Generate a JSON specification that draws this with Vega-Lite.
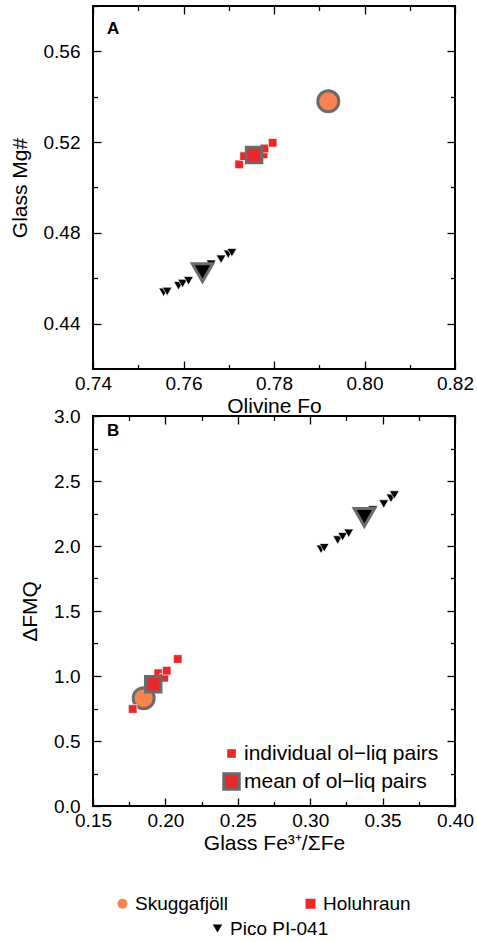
{
  "$schema": "https://vega.github.io/schema/vega-lite/v6.json",
  "padding": {"left": 8, "top": 4, "right": 0, "bottom": 0},
  "datasets": {
    "a": [
      {"group": "Skuggafjöll", "type": "mean", "fo": 0.792, "mg": 0.538},
      {"group": "Holuhraun", "type": "individual", "fo": 0.7723, "mg": 0.5102},
      {"group": "Holuhraun", "type": "individual", "fo": 0.7734, "mg": 0.5138},
      {"group": "Holuhraun", "type": "individual", "fo": 0.7777, "mg": 0.5146},
      {"group": "Holuhraun", "type": "individual", "fo": 0.7779, "mg": 0.5172},
      {"group": "Holuhraun", "type": "individual", "fo": 0.7797, "mg": 0.5197},
      {"group": "Holuhraun", "type": "mean", "fo": 0.7756, "mg": 0.5143},
      {"group": "Pico PI-041", "type": "individual", "fo": 0.7556, "mg": 0.4538},
      {"group": "Pico PI-041", "type": "individual", "fo": 0.7564, "mg": 0.4542},
      {"group": "Pico PI-041", "type": "individual", "fo": 0.7589, "mg": 0.4567},
      {"group": "Pico PI-041", "type": "individual", "fo": 0.7598, "mg": 0.4577},
      {"group": "Pico PI-041", "type": "individual", "fo": 0.7611, "mg": 0.4589},
      {"group": "Pico PI-041", "type": "individual", "fo": 0.7661, "mg": 0.4662},
      {"group": "Pico PI-041", "type": "individual", "fo": 0.7683, "mg": 0.4684},
      {"group": "Pico PI-041", "type": "individual", "fo": 0.7699, "mg": 0.4706},
      {"group": "Pico PI-041", "type": "individual", "fo": 0.7707, "mg": 0.4713},
      {"group": "Pico PI-041", "type": "mean", "fo": 0.7642, "mg": 0.4625}
    ],
    "b": [
      {"group": "Skuggafjöll", "type": "mean", "fe3": 0.185, "dfmq": 0.829},
      {"group": "Holuhraun", "type": "individual", "fe3": 0.1774, "dfmq": 0.746},
      {"group": "Holuhraun", "type": "individual", "fe3": 0.1951, "dfmq": 1.021},
      {"group": "Holuhraun", "type": "individual", "fe3": 0.1992, "dfmq": 0.987},
      {"group": "Holuhraun", "type": "individual", "fe3": 0.2009, "dfmq": 1.041},
      {"group": "Holuhraun", "type": "individual", "fe3": 0.2085, "dfmq": 1.131},
      {"group": "Holuhraun", "type": "mean", "fe3": 0.1916, "dfmq": 0.936},
      {"group": "Pico PI-041", "type": "individual", "fe3": 0.3075, "dfmq": 1.975},
      {"group": "Pico PI-041", "type": "individual", "fe3": 0.3097, "dfmq": 1.987},
      {"group": "Pico PI-041", "type": "individual", "fe3": 0.319, "dfmq": 2.046},
      {"group": "Pico PI-041", "type": "individual", "fe3": 0.3224, "dfmq": 2.072},
      {"group": "Pico PI-041", "type": "individual", "fe3": 0.3266, "dfmq": 2.098},
      {"group": "Pico PI-041", "type": "individual", "fe3": 0.3432, "dfmq": 2.277},
      {"group": "Pico PI-041", "type": "individual", "fe3": 0.3508, "dfmq": 2.323},
      {"group": "Pico PI-041", "type": "individual", "fe3": 0.3558, "dfmq": 2.367},
      {"group": "Pico PI-041", "type": "individual", "fe3": 0.3581, "dfmq": 2.392},
      {"group": "Pico PI-041", "type": "mean", "fe3": 0.3374, "dfmq": 2.221}
    ]
  },
  "spacing": 47,
  "bounds": "flush",
  "resolve": {"scale": {"color": "shared", "shape": "shared", "opacity": "independent", "size": "independent"}, "legend": {"size": "independent", "opacity": "independent"}},
  "vconcat": [
    {
      "width": 362,
      "height": 363,
      "title": {"text": "A", "anchor": "start", "frame": "group", "offset": -46, "dx": 14, "fontSize": 17, "fontWeight": "bold", "font": "Liberation Sans", "baseline": "alphabetic", "color": "black"},
      "data": {"name": "a"},
      "resolve": {"axis": {"x": "independent", "y": "independent"}},
      "layer": [
        {
          "mark": {"type": "point", "filled": true, "opacity": 1},
          "encoding": {
            "x": {"field": "fo", "type": "quantitative", "scale": {"domain": [0.74, 0.82], "zero": false, "nice": false},
                  "axis": {"orient": "bottom", "values": [0.74, 0.76, 0.78, 0.80, 0.82], "format": ".2f", "tickSize": -8, "labelPadding": 13, "title": "Olivine Fo", "titlePadding": 2}},
            "y": {"field": "mg", "type": "quantitative", "scale": {"domain": [0.42, 0.58], "zero": false, "nice": false},
                  "axis": {"orient": "left", "values": [0.44, 0.48, 0.52, 0.56], "format": ".2f", "tickSize": -8, "labelPadding": 21, "title": "Glass Mg#", "titlePadding": 13}},
            "color": {"field": "group", "type": "nominal", "scale": {"domain": ["Skuggafjöll", "Holuhraun", "Pico PI-041"], "range": ["#F7834F", "#E8292C", "#000000"]},
                      "legend": {"orient": "none", "direction": "horizontal", "values": ["Skuggafjöll", "Holuhraun"], "legendX": 20, "legendY": 888, "columns": 2, "columnPadding": 73, "rowPadding": 4, "title": null, "labelFontSize": 19, "labelFont": "Liberation Sans", "labelColor": "black", "labelOffset": 3, "labelLimit": 0, "padding": 0, "symbolStrokeWidth": 0,
                                 "encode": {"symbols": {"update": {"size": {"signal": "datum.value === 'Skuggafjöll' ? 170 : 90"}, "opacity": {"value": 1}}}}}},
            "shape": {"field": "group", "type": "nominal", "scale": {"domain": ["Skuggafjöll", "Holuhraun", "Pico PI-041"], "range": ["circle", "square", "triangle-down"]},
                      "legend": {"orient": "none", "direction": "horizontal", "values": ["Skuggafjöll", "Holuhraun"], "legendX": 20, "legendY": 888, "columns": 2, "columnPadding": 73, "rowPadding": 4, "title": null, "labelFontSize": 19, "labelFont": "Liberation Sans", "labelColor": "black", "labelOffset": 3, "labelLimit": 0, "padding": 0, "symbolStrokeWidth": 0,
                                 "encode": {"symbols": {"update": {"size": {"signal": "datum.value === 'Skuggafjöll' ? 170 : 90"}, "opacity": {"value": 1}}}}}},
            "size": {"field": "type", "type": "ordinal", "scale": {"domain": ["individual", "mean"], "range": [75, 240]},
                     "condition": [
                       {"test": "datum.group === 'Skuggafjöll'", "value": 441},
                       {"test": "datum.group === 'Pico PI-041' && datum.type === 'mean'", "value": 420},
                       {"test": "datum.group === 'Pico PI-041'", "value": 95}
                     ],
                     "legend": null},
            "stroke": {"condition": {"test": "datum.type === 'mean'", "value": "#6B6B6B"}, "value": "#ffffff"},
            "strokeWidth": {"condition": {"test": "datum.type === 'mean'", "value": 3}, "value": 0.7}
          }
        },
        {
          "mark": {"type": "point", "opacity": 0, "size": 0},
          "encoding": {
            "x": {"field": "fo", "type": "quantitative", "scale": {"domain": [0.74, 0.82], "zero": false, "nice": false},
                  "axis": {"orient": "top", "values": [0.74, 0.76, 0.78, 0.80, 0.82], "tickSize": -8, "labels": false, "title": null}},
            "y": {"field": "mg", "type": "quantitative", "scale": {"domain": [0.42, 0.58], "zero": false, "nice": false},
                  "axis": {"orient": "right", "values": [0.44, 0.48, 0.52, 0.56], "tickSize": -8, "labels": false, "title": null}}
          }
        },
        {
          "mark": {"type": "point", "opacity": 0, "size": 0},
          "encoding": {
            "x": {"field": "fo", "type": "quantitative", "scale": {"domain": [0.74, 0.82], "zero": false, "nice": false},
                  "axis": {"orient": "bottom", "values": [0.75, 0.77, 0.79, 0.81], "tickSize": -4.5, "labels": false, "title": null}},
            "y": {"field": "mg", "type": "quantitative", "scale": {"domain": [0.42, 0.58], "zero": false, "nice": false},
                  "axis": {"orient": "left", "values": [0.46, 0.50, 0.54, 0.58], "tickSize": -4.5, "labels": false, "title": null}}
          }
        },
        {
          "mark": {"type": "point", "opacity": 0, "size": 0},
          "encoding": {
            "x": {"field": "fo", "type": "quantitative", "scale": {"domain": [0.74, 0.82], "zero": false, "nice": false},
                  "axis": {"orient": "top", "values": [0.75, 0.77, 0.79, 0.81], "tickSize": -4.5, "labels": false, "title": null}},
            "y": {"field": "mg", "type": "quantitative", "scale": {"domain": [0.42, 0.58], "zero": false, "nice": false},
                  "axis": {"orient": "right", "values": [0.46, 0.50, 0.54, 0.58], "tickSize": -4.5, "labels": false, "title": null}}
          }
        }
      ]
    },
    {
      "width": 362,
      "height": 390,
      "title": {"text": "B", "anchor": "start", "frame": "group", "offset": -46, "dx": 14, "fontSize": 17, "fontWeight": "bold", "font": "Liberation Sans", "baseline": "alphabetic", "color": "black"},
      "data": {"name": "b"},
      "resolve": {"axis": {"x": "independent", "y": "independent"}},
      "layer": [
        {
          "mark": {"type": "point", "filled": true, "opacity": 1},
          "encoding": {
            "x": {"field": "fe3", "type": "quantitative", "scale": {"domain": [0.15, 0.40], "zero": false, "nice": false},
                  "axis": {"orient": "bottom", "values": [0.15, 0.20, 0.25, 0.30, 0.35, 0.40], "format": ".2f", "tickSize": -8, "labelPadding": 13, "title": "Glass Fe³⁺/ΣFe", "titlePadding": 2}},
            "y": {"field": "dfmq", "type": "quantitative", "scale": {"domain": [0, 3], "zero": false, "nice": false},
                  "axis": {"orient": "left", "values": [0, 0.5, 1, 1.5, 2, 2.5, 3], "format": ".1f", "tickSize": -8, "labelPadding": 21, "title": "ΔFMQ", "titlePadding": 13}},
            "color": {"field": "group", "type": "nominal", "scale": {"domain": ["Skuggafjöll", "Holuhraun", "Pico PI-041"], "range": ["#F7834F", "#E8292C", "#000000"]},
                      "legend": {"orient": "none", "direction": "horizontal", "values": ["Skuggafjöll", "Holuhraun"], "legendX": 20, "legendY": 888, "columns": 2, "columnPadding": 73, "rowPadding": 4, "title": null, "labelFontSize": 19, "labelFont": "Liberation Sans", "labelColor": "black", "labelOffset": 3, "labelLimit": 0, "padding": 0, "symbolStrokeWidth": 0,
                                 "encode": {"symbols": {"update": {"size": {"signal": "datum.value === 'Skuggafjöll' ? 170 : 90"}, "opacity": {"value": 1}}}}}},
            "shape": {"field": "group", "type": "nominal", "scale": {"domain": ["Skuggafjöll", "Holuhraun", "Pico PI-041"], "range": ["circle", "square", "triangle-down"]},
                      "legend": {"orient": "none", "direction": "horizontal", "values": ["Skuggafjöll", "Holuhraun"], "legendX": 20, "legendY": 888, "columns": 2, "columnPadding": 73, "rowPadding": 4, "title": null, "labelFontSize": 19, "labelFont": "Liberation Sans", "labelColor": "black", "labelOffset": 3, "labelLimit": 0, "padding": 0, "symbolStrokeWidth": 0,
                                 "encode": {"symbols": {"update": {"size": {"signal": "datum.value === 'Skuggafjöll' ? 170 : 90"}, "opacity": {"value": 1}}}}}},
            "opacity": {"field": "group", "type": "nominal", "scale": {"type": "ordinal", "domain": ["Pico PI-041", "Skuggafjöll", "Holuhraun"], "range": [1, 1, 1]},
                      "legend": {"orient": "none", "values": ["Pico PI-041"], "legendX": 115, "legendY": 503, "title": null, "labelFontSize": 19, "labelFont": "Liberation Sans", "labelColor": "black", "labelOffset": 3, "labelLimit": 0, "padding": 0, "symbolType": "triangle-down", "symbolFillColor": "black", "symbolSize": 90, "symbolStrokeWidth": 0, "symbolOpacity": 1,
                                 "encode": {"symbols": {"update": {"fill": {"value": "black"}, "shape": {"value": "triangle-down"}, "size": {"value": 90}, "opacity": {"value": 1}}}}}},
            "size": {"field": "type", "type": "ordinal", "scale": {"domain": ["individual", "mean"], "range": [75, 240]},
                     "condition": [
                       {"test": "datum.group === 'Skuggafjöll'", "value": 441},
                       {"test": "datum.group === 'Pico PI-041' && datum.type === 'mean'", "value": 420},
                       {"test": "datum.group === 'Pico PI-041'", "value": 95}
                     ],
                     "legend": {"orient": "none", "legendX": 128, "legendY": 327, "title": null, "padding": 0, "rowPadding": 3, "labelFontSize": 21, "labelFont": "Liberation Sans", "labelColor": "black", "labelOffset": 2, "labelLimit": 0, "symbolType": "square", "symbolFillColor": "#E8292C", "symbolOpacity": 1, "symbolStrokeColor": "#6B6B6B", "symbolStrokeWidth": 3,
                                "labelExpr": "datum.value === 'individual' ? 'individual ol−liq pairs' : 'mean of ol−liq pairs'",
                                "encode": {"symbols": {"update": {"fill": {"value": "#E8292C"}, "shape": {"value": "square"}, "opacity": {"value": 1}, "fillOpacity": {"value": 1}, "strokeOpacity": {"value": 1}, "stroke": {"value": "#6B6B6B"}, "strokeWidth": {"signal": "datum.value === 'mean' ? 3 : 0"}}}}}},
            "stroke": {"condition": {"test": "datum.type === 'mean'", "value": "#6B6B6B"}, "value": "#ffffff"},
            "strokeWidth": {"condition": {"test": "datum.type === 'mean'", "value": 3}, "value": 0.7}
          }
        },
        {
          "mark": {"type": "point", "opacity": 0, "size": 0},
          "encoding": {
            "x": {"field": "fe3", "type": "quantitative", "scale": {"domain": [0.15, 0.40], "zero": false, "nice": false},
                  "axis": {"orient": "top", "values": [0.15, 0.20, 0.25, 0.30, 0.35, 0.40], "tickSize": -8, "labels": false, "title": null}},
            "y": {"field": "dfmq", "type": "quantitative", "scale": {"domain": [0, 3], "zero": false, "nice": false},
                  "axis": {"orient": "right", "values": [0, 0.5, 1, 1.5, 2, 2.5, 3], "tickSize": -8, "labels": false, "title": null}}
          }
        },
        {
          "mark": {"type": "point", "opacity": 0, "size": 0},
          "encoding": {
            "x": {"field": "fe3", "type": "quantitative", "scale": {"domain": [0.15, 0.40], "zero": false, "nice": false},
                  "axis": {"orient": "bottom", "values": [0.175, 0.225, 0.275, 0.325, 0.375], "tickSize": -4.5, "labels": false, "title": null}},
            "y": {"field": "dfmq", "type": "quantitative", "scale": {"domain": [0, 3], "zero": false, "nice": false},
                  "axis": {"orient": "left", "values": [0.25, 0.75, 1.25, 1.75, 2.25, 2.75], "tickSize": -4.5, "labels": false, "title": null}}
          }
        },
        {
          "mark": {"type": "point", "opacity": 0, "size": 0},
          "encoding": {
            "x": {"field": "fe3", "type": "quantitative", "scale": {"domain": [0.15, 0.40], "zero": false, "nice": false},
                  "axis": {"orient": "top", "values": [0.175, 0.225, 0.275, 0.325, 0.375], "tickSize": -4.5, "labels": false, "title": null}},
            "y": {"field": "dfmq", "type": "quantitative", "scale": {"domain": [0, 3], "zero": false, "nice": false},
                  "axis": {"orient": "right", "values": [0.25, 0.75, 1.25, 1.75, 2.25, 2.75], "tickSize": -4.5, "labels": false, "title": null}}
          }
        }
      ]
    }
  ],
  "config": {
    "font": "Liberation Sans",
    "view": {"stroke": "black", "strokeWidth": 2},
    "axis": {"grid": false, "domain": false, "labelFont": "Liberation Sans", "labelFontSize": 19, "labelColor": "black", "labelFlush": false, "labelOverlap": false, "titleFont": "Liberation Sans", "titleFontSize": 21, "titleFontWeight": "normal", "titleColor": "black", "tickColor": "black", "tickWidth": 1.3}
  }
}
